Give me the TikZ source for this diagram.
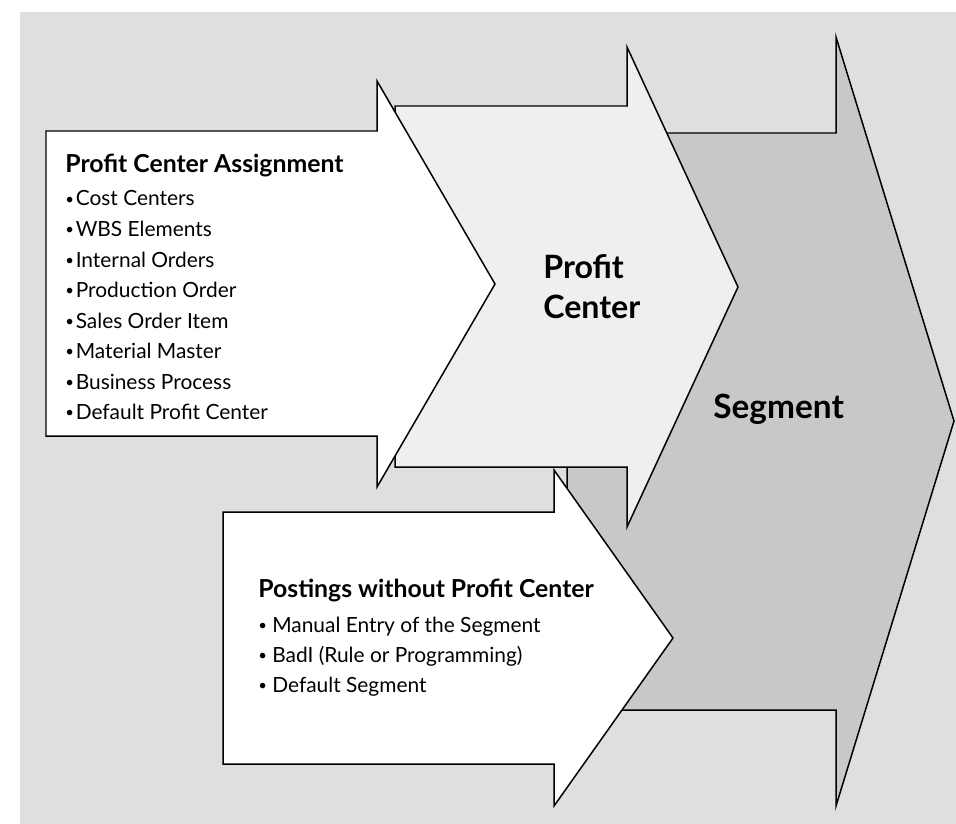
\documentclass[tikz,border=0pt]{standalone}
\usepackage{fontspec}
\setmainfont{Lato}
\usepackage{xcolor}
\usetikzlibrary{positioning, calc}
\definecolor{panelGray}{RGB}{223, 223, 223}
\definecolor{centerGray}{RGB}{239, 239, 239}
\definecolor{segmentGray}{RGB}{200, 200, 200}
\newcommand{\dotmark}{\raisebox{0.9pt}{\fontsize{8.5}{8.5}\selectfont•}}

\tikzset{
    arrowbox/.style={draw=black, line width=0.85pt, line join=miter},
    headtext/.style={anchor=base west, inner sep=0pt, font=\fontsize{14.1}{16}\selectfont\bfseries},
    itemtext/.style={anchor=base west, inner sep=0pt, font=\fontsize{11.9}{14}\selectfont},
    bigtext/.style={anchor=base west, inner sep=0pt, font=\fontsize{18.3}{22}\selectfont\bfseries}
}

\begin{document}
\begin{tikzpicture}[x=0.02cm, y=-0.02cm]
    \useasboundingbox (0,0) rectangle (956,824);
    % Panel
    \fill[panelGray] (20,12) rectangle (956,824);

    % Segment arrow
    \draw[arrowbox, fill=segmentGray] (567,133) -- (836,133) -- (836,37) -- (954,421)
        -- (836,806) -- (836,710) -- (567,710) -- cycle;
    % Profit center arrow
    \draw[arrowbox, fill=centerGray] (395,106) -- (627,106) -- (627,47) -- (738,287)
        -- (627,527) -- (627,467) -- (395,467) -- cycle;
    % Postings arrow
    \draw[arrowbox, fill=white] (223,512) -- (554,512) -- (554,470) -- (673,638)
        -- (554,806) -- (554,764) -- (223,764) -- cycle;
    % Assignment arrow
    \draw[arrowbox, fill=white] (46,131) -- (377,131) -- (377,81) -- (495,284)
        -- (377,487) -- (377,436) -- (46,436) -- cycle;

    % Labels
    \node[bigtext] (pc1) at (543,278) {Profit};
    \node[bigtext] (pc2) at (543,318) {Center};
    \node[bigtext, font=\fontsize{19}{22}\selectfont\bfseries] (seg) at (713,418) {Segment};

    % Profit center assignment
    \node[headtext] (pcahead) at (65,173) {Profit Center Assignment};
    \foreach \txt [count=\i] in {Cost Centers, WBS Elements, Internal Orders,
        Production Order, Sales Order Item, Material Master, Business Process,
        Default Profit Center}
        \node[itemtext] (pca\i) at ({65},{206+30.5*(\i-1)}) {\dotmark\kern1pt\txt};

    % Postings without profit center
    \node[headtext] (pwohead) at (258,597) {Postings without Profit Center};
    \foreach \txt [count=\i] in {Manual Entry of the Segment, BadI (Rule or Programming),
        Default Segment}
        \node[itemtext] (pwo\i) at ({258},{632+30*(\i-1)}) {\dotmark\kern3pt\txt};
\end{tikzpicture}
\end{document}
